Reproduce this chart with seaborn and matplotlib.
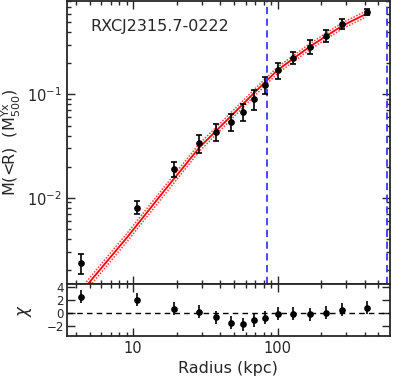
import numpy as np
import seaborn as sns
import matplotlib.pyplot as plt
from matplotlib.ticker import LogLocator, NullFormatter, MultipleLocator, FuncFormatter

# data points: radius (kpc), enclosed mass (in M500 units), error bar ends
radius = [4.34, 10.6, 19.1, 28.5, 37.4, 47.5, 57.6, 68.7, 81.8, 100.5, 127.6, 167, 216, 279, 415]
mass = [0.00234, 0.00794, 0.0190, 0.0338, 0.0432, 0.0539, 0.0674, 0.0901, 0.123,
        0.172, 0.225, 0.287, 0.366, 0.479, 0.625]
mass_hi = [0.00286, 0.00929, 0.0221, 0.0404, 0.0516, 0.0644, 0.0806, 0.110, 0.147,
           0.201, 0.257, 0.335, 0.419, 0.535, 0.668]
mass_lo = [0.00183, 0.00695, 0.0158, 0.0270, 0.0353, 0.0442, 0.0552, 0.0705, 0.101,
           0.141, 0.196, 0.245, 0.321, 0.429, 0.585]

# best-fit model curve and its envelope
model_r = [4.6, 5.0, 9.1, 16.6, 28.9, 47.5, 68.6, 100, 167, 279, 409]
model_m = [0.00132, 0.00153, 0.00415, 0.0119, 0.0309, 0.0615, 0.103, 0.172, 0.29, 0.46, 0.60]
model_hi = [0.00145, 0.00168, 0.00455, 0.0130, 0.0336, 0.0665, 0.111, 0.184, 0.310, 0.492, 0.641]
model_lo = [0.00120, 0.00139, 0.00378, 0.0108, 0.0284, 0.0569, 0.0955, 0.160, 0.271, 0.430, 0.561]

# residuals
chi = [2.55, 2.05, 0.7, 0.25, -0.6, -1.45, -1.7, -1.08, -0.67, -0.1, -0.1, -0.15, 0.05, 0.55, 0.87]
chi_err = [1.0] * len(chi)

vlines_r = [85, 569]
cluster_name = "RXCJ2315.7-0222"

sns.set_style("ticks")
plt.rcParams['font.family'] = ['DejaVu Sans']
plt.rcParams['mathtext.fontset'] = 'dejavusans'

fig = plt.figure(figsize=(3.99, 3.83), dpi=100)
ax = fig.add_axes([0.167, 0.2585, 0.810, 0.7385])
axr = fig.add_axes([0.167, 0.1227, 0.810, 0.1358], sharex=ax)

# main panel
sns.lineplot(x=model_r, y=model_hi, ax=ax, color="#ff4040", lw=1.1,
             linestyle=(0, (1, 1)), sort=False, estimator=None)
sns.lineplot(x=model_r, y=model_lo, ax=ax, color="#ff4040", lw=1.1,
             linestyle=(0, (1, 1)), sort=False, estimator=None)
sns.lineplot(x=model_r, y=model_m, ax=ax, color="red", lw=1.3,
             sort=False, estimator=None)

m = np.array(mass)
yerr = [m - np.array(mass_lo), np.array(mass_hi) - m]
ax.errorbar(radius, mass, yerr=yerr, fmt="o", color="black", ms=3.8,
            elinewidth=1.2, capsize=2.5, capthick=1.2, zorder=5)

for vr in vlines_r:
    ax.axvline(vr, color="#3a3aff", lw=1.3, linestyle=(0, (4, 2.5)))

ax.set_xscale("log")
ax.set_yscale("log")
ax.set_xlim(3.46, 599)
ax.set_ylim(0.00146, 0.80)
ax.set_ylabel(r"M(<R)  (M$_{500}^{\rm Yx}$)", fontsize=11.5)
ax.text(0.072, 0.912, cluster_name, transform=ax.transAxes, fontsize=11.5,
        va="center", ha="left")
ax.tick_params(axis="x", labelbottom=False)

# residual panel
axr.errorbar(radius, chi, yerr=chi_err, fmt="o", color="black", ms=3.8,
             elinewidth=1.2, capsize=0, zorder=5)
axr.axhline(0, color="black", lw=1.0, linestyle=(0, (4, 3)))
axr.set_ylim(-3.5, 4.5)
axr.yaxis.set_major_locator(MultipleLocator(2))
axr.set_ylabel(r"$\chi$", fontsize=12)
axr.set_xlabel("Radius (kpc)", fontsize=11.5)
axr.xaxis.set_major_locator(LogLocator(base=10))
axr.xaxis.set_major_formatter(FuncFormatter(lambda v, p: f"{v:g}"))
axr.xaxis.set_minor_locator(LogLocator(base=10, subs=np.arange(2, 10)))
axr.xaxis.set_minor_formatter(NullFormatter())

for a in (ax, axr):
    for s in a.spines.values():
        s.set_linewidth(1.3)
    a.tick_params(which="both", direction="in", top=True, right=True,
                  labelsize=10.5, width=1.0)
    a.tick_params(which="major", length=6)
    a.tick_params(which="minor", length=3)
axr.tick_params(axis="y", labelsize=8.5, pad=2)

ax.yaxis.set_minor_formatter(NullFormatter())
ax.yaxis.set_label_coords(-0.135, 0.5)
axr.yaxis.set_label_coords(-0.1, 0.5)

fig.savefig("out.png", dpi=100)
